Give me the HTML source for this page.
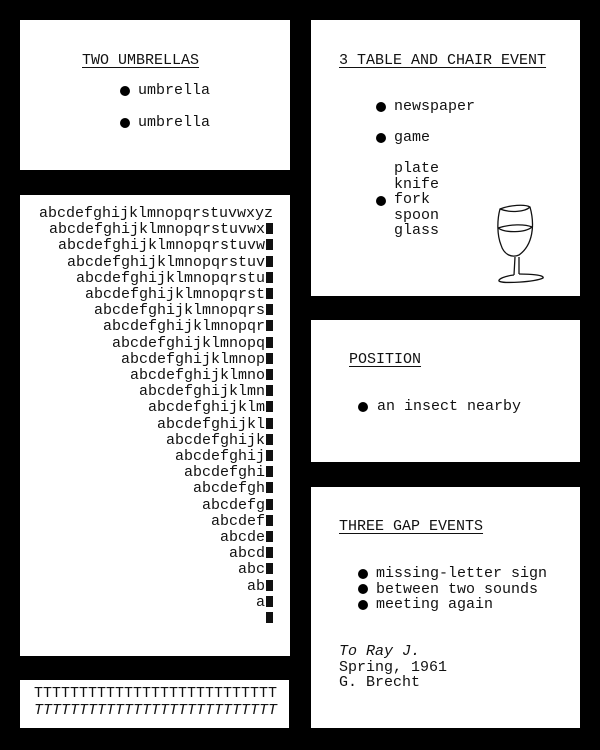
<!DOCTYPE html>
<html><head><meta charset="utf-8"><style>
body{margin:0;width:600px;height:750px;background:#000;position:relative;overflow:hidden;font-family:"Liberation Mono",monospace;font-size:15px;color:#111}
.p{position:absolute;background:#fff}
.t{position:absolute;line-height:18px;white-space:pre}
.u{text-decoration:underline;text-underline-offset:3px}
.b{position:absolute;width:10px;height:10px;border-radius:50%;background:#000}
.alpha{position:absolute;left:0;width:273px;text-align:right;line-height:16.2px;top:206px;white-space:pre}
.ov{display:inline-block;width:7px;height:11px;background:#111;margin-left:1px;vertical-align:-1px}
</style></head><body>
<div class="p" style="left:20px;top:20px;width:270px;height:150px"></div>
<div class="p" style="left:311px;top:20px;width:269px;height:276px"></div>
<div class="p" style="left:20px;top:195px;width:270px;height:461px"></div>
<div class="p" style="left:311px;top:320px;width:269px;height:142px"></div>
<div class="p" style="left:311px;top:487px;width:269px;height:241px"></div>
<div class="p" style="left:20px;top:680px;width:269px;height:48px"></div>

<div class="t u" style="left:82px;top:52px">TWO UMBRELLAS</div>
<div class="b" style="left:120px;top:86px"></div><div class="t" style="left:138px;top:82px">umbrella</div>
<div class="b" style="left:120px;top:118px"></div><div class="t" style="left:138px;top:114px">umbrella</div>

<div class="t u" style="left:339px;top:52px">3 TABLE AND CHAIR EVENT</div>
<div class="b" style="left:376px;top:102px"></div><div class="t" style="left:394px;top:98px">newspaper</div>
<div class="b" style="left:376px;top:133px"></div><div class="t" style="left:394px;top:129px">game</div>
<div class="t" style="left:394px;top:161px;line-height:15.5px">plate
knife
fork
spoon
glass</div>
<div class="b" style="left:376px;top:196px"></div>
<svg style="position:absolute;left:490px;top:200px" width="60" height="86" viewBox="0 0 60 86" fill="none" stroke="#111" stroke-width="1.3">
<path d="M10 9 C20 5 35 4 40 7 C45 25 43 45 29 55 C22 58 14 55 11 45 C7 35 7 20 10 9 Z"/>
<path d="M10 9 C20 13 35 12 40 7"/>
<path d="M8 28 C20 24 35 24 42 27 C35 33 15 33 8 28"/>
<path d="M25 57 L24 75 M29 57 L29 74"/>
<path d="M24 75 C15 76 8 79 9 81 C12 84 45 82 53 78 C55 75 40 74 29 74"/>
</svg>

<div class="alpha">abcdefghijklmnopqrstuvwxyz
abcdefghijklmnopqrstuvwx<span class="ov"></span>
abcdefghijklmnopqrstuvw<span class="ov"></span>
abcdefghijklmnopqrstuv<span class="ov"></span>
abcdefghijklmnopqrstu<span class="ov"></span>
abcdefghijklmnopqrst<span class="ov"></span>
abcdefghijklmnopqrs<span class="ov"></span>
abcdefghijklmnopqr<span class="ov"></span>
abcdefghijklmnopq<span class="ov"></span>
abcdefghijklmnop<span class="ov"></span>
abcdefghijklmno<span class="ov"></span>
abcdefghijklmn<span class="ov"></span>
abcdefghijklm<span class="ov"></span>
abcdefghijkl<span class="ov"></span>
abcdefghijk<span class="ov"></span>
abcdefghij<span class="ov"></span>
abcdefghi<span class="ov"></span>
abcdefgh<span class="ov"></span>
abcdefg<span class="ov"></span>
abcdef<span class="ov"></span>
abcde<span class="ov"></span>
abcd<span class="ov"></span>
abc<span class="ov"></span>
ab<span class="ov"></span>
a<span class="ov"></span>
<span class="ov"></span></div>

<div class="t u" style="left:349px;top:351px">POSITION</div>
<div class="b" style="left:358px;top:402px"></div><div class="t" style="left:377px;top:398px">an insect nearby</div>

<div class="t u" style="left:339px;top:518px">THREE GAP EVENTS</div>
<div class="t" style="left:376px;top:566px;line-height:15.5px">missing-letter sign
between two sounds
meeting again</div>
<div class="b" style="left:358px;top:569px"></div>
<div class="b" style="left:358px;top:584px"></div>
<div class="b" style="left:358px;top:600px"></div>
<div class="t" style="left:339px;top:644px;line-height:15.5px"><i>To Ray J.</i>
Spring, 1961
G. Brecht</div>

<div class="t" style="left:34px;top:685px;line-height:17px">TTTTTTTTTTTTTTTTTTTTTTTTTTT
<i>TTTTTTTTTTTTTTTTTTTTTTTTTTT</i></div>
</body></html>
